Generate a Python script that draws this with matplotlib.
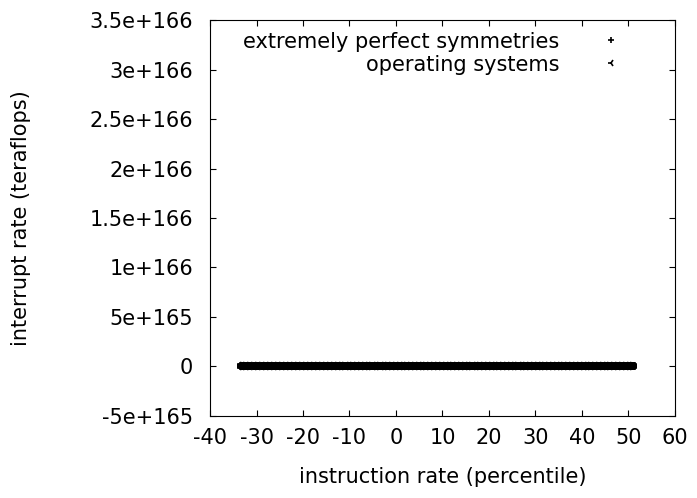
import matplotlib
matplotlib.use("Agg")
import matplotlib.pyplot as plt
from matplotlib.ticker import FuncFormatter

# --- data ---
sym_label = "extremely perfect symmetries"
os_label = "operating systems"

sym_x = [-33.1, -32.3, -31.6, -30.4, -29.8, -28.7, -27.9, -27.1, -26.0, -25.3,
         -24.6, -23.5, -22.8, -21.9, -21.2, -20.1, -19.4, -18.6, -17.5, -16.9,
         -15.8, -15.0, -14.3, -13.2, -12.6, -11.7, -10.8, -10.1, -9.2, -8.4,
         -7.5, -6.9, -5.8, -5.1, -4.2, -3.4, -2.5, -1.8, -0.9, -0.1,
         0.8, 1.7, 2.3, 3.2, 4.1, 4.9, 5.6, 6.5, 7.4, 8.1,
         9.0, 9.8, 10.7, 11.5, 12.2, 13.1, 14.0, 14.8, 15.5, 16.4,
         17.3, 18.1, 18.8, 19.7, 20.6, 21.4, 22.1, 23.0, 23.9, 24.7,
         25.4, 26.3, 27.2, 28.0, 28.7, 29.6, 30.5, 31.3, 32.0, 32.9,
         33.8, 34.6, 35.3, 36.2, 37.1, 37.9, 38.6, 39.5, 40.4, 41.2,
         41.9, 42.8, 43.7, 44.5, 45.2, 46.1, 47.0, 47.8, 48.5, 49.4,
         50.2, 50.9]
sym_y = [12.1, 15.4, 9.8, 20.3, 11.7, 14.2, 8.9, 17.6, 13.3, 10.5,
         16.8, 12.9, 19.1, 11.2, 14.7, 9.4, 18.3, 13.8, 10.9, 15.6,
         12.4, 17.2, 8.7, 14.9, 11.6, 19.8, 13.1, 10.2, 16.4, 12.7,
         15.3, 9.9, 18.7, 11.4, 14.1, 13.6, 17.9, 10.6, 12.2, 16.1,
         9.3, 14.5, 11.8, 19.4, 13.2, 10.8, 15.9, 12.6, 17.4, 11.1,
         14.8, 9.6, 18.1, 13.5, 10.3, 16.7, 12.3, 15.2, 11.9, 19.6,
         13.9, 10.1, 17.1, 12.8, 14.4, 9.7, 18.5, 11.3, 15.7, 13.4,
         10.7, 16.3, 12.5, 14.6, 11.5, 19.2, 13.7, 10.4, 17.8, 12.1,
         15.1, 9.5, 18.9, 11.0, 14.3, 13.0, 16.6, 10.0, 12.9, 15.8,
         11.7, 17.5, 13.6, 10.6, 14.0, 12.4, 18.2, 11.2, 16.0, 13.3,
         9.9, 15.5]

os_x = [-33.4, -32.7, -31.9, -31.0, -30.1, -29.3, -28.3, -27.5, -26.6, -25.7,
        -24.9, -24.0, -23.2, -22.3, -21.5, -20.6, -19.8, -19.0, -18.1, -17.2,
        -16.3, -15.4, -14.6, -13.8, -12.9, -12.1, -11.3, -10.4, -9.6, -8.8,
        -7.9, -7.2, -6.3, -5.5, -4.6, -3.8, -2.9, -2.1, -1.3, -0.5,
        0.4, 1.2, 2.0, 2.8, 3.6, 4.5, 5.3, 6.1, 6.9, 7.8,
        8.6, 9.4, 10.3, 11.1, 11.9, 12.7, 13.6, 14.4, 15.2, 16.0,
        16.9, 17.7, 18.5, 19.3, 20.2, 21.0, 21.8, 22.6, 23.4, 24.3,
        25.1, 25.9, 26.8, 27.6, 28.4, 29.2, 30.1, 30.9, 31.7, 32.5,
        33.4, 34.2, 35.0, 35.8, 36.6, 37.5, 38.3, 39.1, 39.9, 40.8,
        41.6, 42.4, 43.2, 44.1, 44.9, 45.7, 46.5, 47.4, 48.2, 49.0,
        49.8, 50.5]
os_y = [7.2, 9.1, 6.4, 8.8, 10.2, 5.9, 7.7, 9.5, 6.8, 8.3,
        7.0, 10.6, 6.1, 8.9, 7.4, 9.8, 5.6, 8.1, 7.9, 10.0,
        6.6, 9.3, 7.1, 8.5, 6.3, 9.9, 7.6, 8.0, 5.8, 9.6,
        7.3, 8.7, 6.9, 10.4, 7.5, 6.2, 9.0, 8.4, 7.8, 6.5,
        9.7, 7.2, 8.6, 6.0, 10.1, 7.0, 8.2, 6.7, 9.4, 7.7,
        8.9, 6.4, 10.3, 7.4, 8.0, 5.7, 9.2, 7.9, 6.8, 8.5,
        7.1, 9.8, 6.3, 8.3, 7.6, 10.5, 6.9, 8.8, 7.3, 9.1,
        6.1, 8.1, 7.5, 9.6, 6.6, 8.7, 7.8, 10.0, 6.2, 9.3,
        7.0, 8.4, 6.7, 9.9, 7.4, 8.6, 5.9, 9.5, 7.2, 8.2,
        6.5, 10.2, 7.9, 8.0, 6.8, 9.0, 7.6, 8.9, 6.0, 9.7,
        7.3, 8.5]

x_ticks = [-40, -30, -20, -10, 0, 10, 20, 30, 40, 50, 60]
y_ticks = [-5e165, 0, 5e165, 1e166, 1.5e166, 2e166, 2.5e166, 3e166, 3.5e166]

plt.rcParams['font.family'] = ['DejaVu Sans']
plt.rcParams['font.size'] = 15
plt.rcParams['axes.unicode_minus'] = False

fig = plt.figure(figsize=(6.97, 4.98), dpi=100)
ax = fig.add_axes([0.3013, 0.1647, 0.6671, 0.7951])

# dense point clouds -> drawn as a solid band like the reference
ax.plot(sym_x, sym_y, linestyle='none', marker='+', markersize=6,
        markeredgewidth=4, color='black', label=sym_label)
ax.plot(os_x, os_y, linestyle='none', marker='3', markersize=6,
        markeredgewidth=4, color='black', label=os_label)

ax.set_xlim(-40, 60)
ax.set_ylim(-5e165, 3.5e166)
ax.set_xticks(x_ticks)
ax.set_yticks(y_ticks)
ax.yaxis.set_major_formatter(FuncFormatter(lambda v, p: '%g' % v))

ax.tick_params(axis='both', direction='in', length=4.5, width=0.8,
               top=True, right=True, labelsize=15)
ax.tick_params(axis='x', pad=9)
ax.tick_params(axis='y', pad=12)
for sp in ax.spines.values():
    sp.set_linewidth(0.8)

ax.set_xlabel("instruction rate (percentile)", fontsize=15)
ax.set_ylabel("interrupt rate (teraflops)", fontsize=15)
ax.xaxis.set_label_coords(0.5, -0.13)
ax.yaxis.set_label_coords(-0.384, 0.5)

leg = ax.legend(loc='upper right', bbox_to_anchor=(0.884, 0.971),
                frameon=False, markerfirst=False, fontsize=15,
                handlelength=1, handletextpad=1.95, labelspacing=0.15,
                borderpad=0, borderaxespad=0)
for h in leg.legend_handles:
    h.set_markeredgewidth(1.2)
    h.set_markersize(5)

fig.savefig("out.png", dpi=100)
